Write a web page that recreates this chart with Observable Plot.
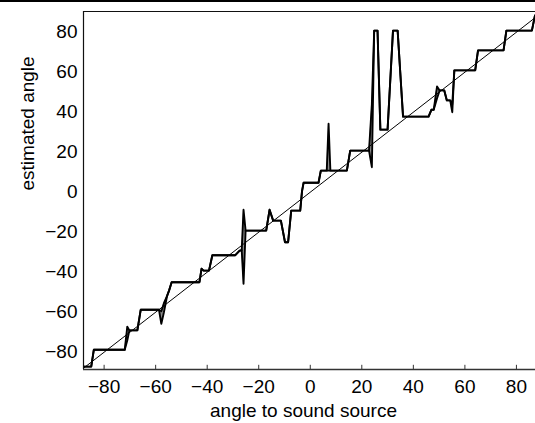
<!DOCTYPE html>
<html>
<head>
<meta charset="utf-8">
<script src="https://cdn.jsdelivr.net/npm/d3@7"></script>
<script src="https://cdn.jsdelivr.net/npm/@observablehq/plot@0.6"></script>
<style>
  html, body { margin: 0; padding: 0; background: #fff; }
  #wrap { position: relative; width: 535px; height: 423px; overflow: hidden; }
  #topline { position: absolute; left: 0; top: 0; width: 535px; height: 2px; background: #000; }
</style>
</head>
<body>
<div id="wrap"><div id="topline"></div></div>
<script>
// angle to sound source (degrees)
const angle = [-88, -85, -84, -72, -71, -70.2, -67.1, -65.8, -58.7, -57.8, -56.8, -55.6, -54.8, -53.8,
  -43, -42.2, -41.4, -39.3, -38, -29.1, -27.4, -26.6, -25.9, -25.1, -17.1, -15.8, -14.4, -11.4,
  -9.8, -8.6, -7.4, -3.9, -3.2, -2.6, 3.2, 4.1, 6.4, 7.1, 7.8, 14.2, 15.5, 22.8, 23.9, 24.8,
  26.1, 27.2, 30, 32.1, 33.9, 36, 45.9, 47, 47.9, 49.2, 50.2, 52, 53, 54.3, 55.1, 55.9,
  64, 65.1, 75, 76.1, 86, 87.2];
// upper trace of the estimated angle
const estHi = [-87.2, -87.2, -78.8, -78.8, -67.2, -69.1, -69.1, -58.8, -58.8, -59.5, -55.5, -52, -49.2, -45,
  -45, -38.3, -39.2, -39.2, -31.5, -31.5, -29.2, -29, -8.8, -19.2, -19.2, -8.8, -14.2, -14.2,
  -25, -25, -9.2, -9.2, 0.5, 4.7, 4.7, 10.8, 10.8, 34.2, 10.8, 10.8, 20.8, 20.8, 44, 80.8,
  80.8, 31.3, 31.3, 80.8, 80.8, 37.8, 37.8, 41.2, 41.2, 52.9, 50.9, 50.9, 45.9, 45.9, 44, 60.9,
  60.9, 70.9, 70.9, 80.8, 80.8, 88.4];
// lower trace of the estimated angle
const estLo = [-87.2, -87.2, -78.8, -78.8, -74, -69.1, -69.1, -58.8, -58.8, -65.8, -60, -52, -49.2, -45,
  -45, -38.3, -39.2, -39.2, -31.5, -31.5, -29.2, -29, -45.8, -19.2, -19.2, -8.8, -14.2, -14.2,
  -25, -25, -9.2, -9.2, 0.5, 4.7, 4.7, 10.8, 10.8, 10.8, 10.8, 10.8, 20.8, 20.8, 12.5, 80.8,
  80.8, 31.3, 31.3, 80.8, 80.8, 37.8, 37.8, 41.2, 41.2, 47, 50.9, 50.9, 45.9, 45.9, 40, 60.9,
  60.9, 70.9, 70.9, 80.8, 80.8, 88.4];
const xTicks = [-80, -60, -40, -20, 0, 20, 40, 60, 80];
const yTicks = [-80, -60, -40, -20, 0, 20, 40, 60, 80];
const diagonal = [-90, 90];
const xLabel = "angle to sound source";
const yLabel = "estimated angle";

const xDomain = [-88, 87.4];
const yDomain = [-88.65, 90.35];

const data = angle.map((a, i) => ({a, hi: estHi[i], lo: estLo[i]}));
const fmt = d => d < 0 ? "\u2212" + Math.abs(d) : String(d);

const chart = Plot.plot({
  width: 535,
  height: 423,
  marginLeft: 83,
  marginRight: 0,
  marginTop: 11,
  marginBottom: 54,
  style: {fontFamily: "'Liberation Sans', Arial, Helvetica, sans-serif", fontSize: "19px", color: "#000", background: "transparent", overflow: "visible"},
  x: {domain: xDomain, ticks: xTicks, tickSize: 0, tickPadding: 10, tickFormat: fmt, label: null},
  y: {domain: yDomain, ticks: yTicks, tickSize: 0, tickPadding: 6, tickFormat: fmt, label: null},
  marks: [
    Plot.areaY(data, {x: "a", y1: "lo", y2: "hi", fill: "#8c8c8c", clip: true}),
    Plot.line(diagonal, {x: d => d, y: d => d, stroke: "#000", strokeWidth: 1, clip: true}),
    Plot.line(data, {x: "a", y: "lo", stroke: "#000", strokeWidth: 1.9, clip: true}),
    Plot.line(data, {x: "a", y: "hi", stroke: "#000", strokeWidth: 1.9, clip: true}),
    Plot.ruleX([xDomain[0]], {stroke: "#111", strokeWidth: 1.2}),
    Plot.ruleY([yDomain[0]], {stroke: "#333", strokeWidth: 1.5}),
    Plot.ruleY([yDomain[1]], {stroke: "#111", strokeWidth: 1.2}),
    Plot.ruleX(xTicks, {x: d => d, y1: yDomain[0], y2: yDomain[0] + 2.1, stroke: "#333", strokeWidth: 1}),
    Plot.text([xLabel], {text: d => d, frameAnchor: "bottom", dx: -6, dy: 41, lineAnchor: "middle", fontSize: 19, fill: "#000"}),
    Plot.text([yLabel], {text: d => d, frameAnchor: "left", dx: -56, rotate: -90, lineAnchor: "middle", fontSize: 19, fill: "#000"})
  ]
});
document.getElementById("wrap").appendChild(chart);
</script>
</body>
</html>
